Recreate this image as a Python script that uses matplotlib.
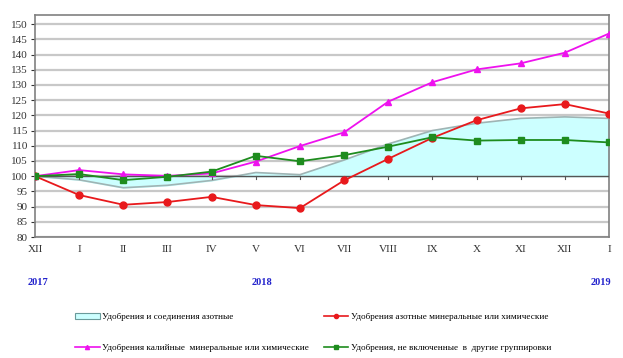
import numpy as np
import matplotlib
matplotlib.use('Agg')
import matplotlib.pyplot as plt
from matplotlib.lines import Line2D
from matplotlib.patches import Patch

months = ['XII', 'I', 'II', 'III', 'IV', 'V', 'VI', 'VII', 'VIII', 'IX', 'X', 'XI', 'XII', 'I']
years = ['2017', '2018', '2019']
year_pos = [0.07, 5.14, 12.82]

n_compounds = [100, 98.8, 96.2, 97.0, 98.6, 101.2, 100.5, 105.3, 110.6, 115.0, 117.4, 119.0, 119.5, 119.0]
n_mineral = [100, 93.8, 90.6, 91.5, 93.2, 90.5, 89.5, 98.6, 105.7, 112.6, 118.4, 122.3, 123.7, 120.6]
k_mineral = [100, 102.0, 100.6, 100.1, 100.9, 104.8, 109.9, 114.4, 124.5, 130.9, 135.1, 137.1, 140.6, 146.9]
other = [100, 100.7, 98.7, 99.8, 101.5, 106.7, 104.9, 106.9, 109.7, 112.8, 111.7, 111.9, 111.9, 111.1]

labels = ['Удобрения и соединения азотные',
          'Удобрения азотные минеральные или химические',
          'Удобрения калийные  минеральные или химические',
          'Удобрения, не включенные  в  другие группировки']

plt.rcParams['font.family'] = ['Liberation Serif', 'DejaVu Serif']

x = np.arange(len(months))
fig = plt.figure(figsize=(6.23, 3.58), dpi=100)
ax = fig.add_axes([35/623, 1-237/358, 574/623, 222/358])

ax.set_xlim(0, len(months)-1)
ax.set_ylim(80, 153)
ax.set_yticks(np.arange(80, 151, 5))
ax.yaxis.grid(True, color='#c8c8c8', linewidth=1.6)
ax.set_axisbelow(True)

ax.fill_between(x, 100, n_compounds, color='#ccffff', zorder=2)
ax.plot(x, n_compounds, c='#9fb4b4', linewidth=1.2, zorder=3)
ax.axhline(100, color='#555555', linewidth=1.0, zorder=3)
for xi in x:
    ax.plot([xi, xi], [100, 99.0], c='#555555', linewidth=0.8, zorder=3)

lw = 1.3
ax.plot(x, n_mineral, c='#e8191c', marker='o', markersize=5, linewidth=lw, zorder=4)
ax.plot(x, k_mineral, c='#ee11ee', marker='^', markersize=5, linewidth=lw, zorder=4)
ax.plot(x, other, c='#1e8c1e', marker='s', markersize=5, linewidth=lw, zorder=5)

for s in ax.spines.values():
    s.set_color('#808080')
    s.set_linewidth(1.2)

ax.set_xticks(x)
ax.set_xticklabels(months)
ax.tick_params(axis='x', length=0, pad=6, labelsize=8, colors='#333333')
ax.tick_params(axis='y', length=3, pad=2, labelsize=8, colors='#333333')

# year labels
for xp, yr in zip(year_pos, years):
    ax.text(xp, -0.205, yr, transform=ax.get_xaxis_transform(), ha='center', va='center',
            color='#2222cc', fontweight='bold', fontsize=7.5)

handles = [Patch(facecolor='#ccffff', edgecolor='#6a9a9a', linewidth=0.8),
           Line2D([], [], c='#e8191c', marker='o', markersize=3, linewidth=1.2),
           Line2D([], [], c='#ee11ee', marker='^', markersize=3, linewidth=1.2),
           Line2D([], [], c='#1e8c1e', marker='s', markersize=3, linewidth=1.2)]
order = [0, 2, 1, 3]
fig.legend([handles[i] for i in order], [labels[i] for i in order], ncol=2,
           loc='upper left', bbox_to_anchor=(75/623, 1-313/358), frameon=False, fontsize=6.6,
           handlelength=2.7, handleheight=0.7, columnspacing=1.6, labelspacing=2.45,
           handletextpad=0.25, borderaxespad=0, borderpad=0)

fig.savefig('out.png', dpi=100)
